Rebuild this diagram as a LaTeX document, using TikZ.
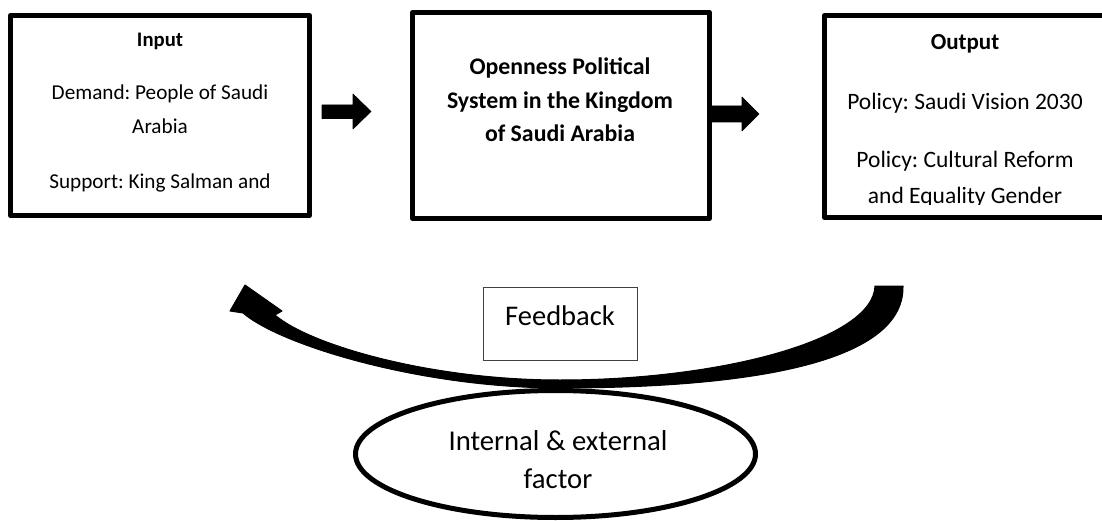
\documentclass[tikz,border=0pt]{standalone}
\usepackage{fontspec}
\setmainfont{Carlito}
\usetikzlibrary{shapes.geometric}
\frenchspacing
\tikzset{
  boxframe/.style={draw=black, line width=5pt, line join=round, inner sep=0pt, fill=none},
  fbframe/.style={draw=black!75, line width=1.3pt, inner sep=0pt},
  ovalframe/.style={ellipse, draw=black, line width=5pt, inner sep=0pt},
  txt/.style={anchor=base, inner sep=0pt, align=center},
  blockarrow/.style={fill=black, draw=black, line width=0.6pt, line join=round},
}
\newcommand{\fsz}[1]{\fontsize{#1}{#1}\selectfont}
\begin{document}
\begin{tikzpicture}[x=1pt,y=-1pt]
\clip (0,0) rectangle (1102,521);
\fill[white] (0,0) rectangle (1102,521);

% ---------- Input box ----------
\begin{scope}
  \clip (13,18) rectangle (307,204);
  \node[txt] (inT) at (160,46.7) {\fsz{20.7}\bfseries Input};
  \node[txt] (inD1) at (160,100) {\fsz{21.2}Demand: People of Saudi};
  \node[txt] (inD2) at (160,133.3) {\fsz{21.2}Arabia};
  \node[txt] (inS) at (160,188.3) {\fsz{21.2}Support: King Salman and};
\end{scope}
\node[boxframe, minimum width=299pt, minimum height=200pt] (in) at (160,115.5) {};

% ---------- Middle box ----------
\node[txt] (m1) at (560,74.5) {\fsz{23.8}\bfseries Openness Political};
\node[txt] (m2) at (560,108.5) {\fsz{23.8}\bfseries System in the Kingdom};
\node[txt] (m3) at (560,142) {\fsz{23.8}\bfseries of Saudi Arabia};
\node[boxframe, minimum width=297pt, minimum height=206pt] (mid) at (561,115.5) {};

% ---------- Output box ----------
\begin{scope}
  \clip (827,18) rectangle (1105,204.3);
  \node[txt] (outT) at (965,50) {\fsz{23}\bfseries Output};
  \node[txt] (outP1) at (965,110) {\fsz{23.5}Policy: Saudi Vision 2030};
  \node[txt] (outP2) at (965,168) {\fsz{23.5}Policy: Cultural Reform};
  \node[txt] (outP3) at (965,203.3) {\fsz{23.5}and Equality Gender};
\end{scope}
\node[boxframe, minimum width=283pt, minimum height=202pt] (out) at (966,116.5) {};

% ---------- block arrows ----------
\coordinate (a1s) at (322,111.5);
\coordinate (a2s) at (712,114);
\filldraw[blockarrow] (a1s) ++(0,-6.5) -- ++(31,0) -- ++(0,-11) -- (371,111.5) -- (353,129) -- ++(0,-10.5) -- (322,118.5) -- cycle;
\filldraw[blockarrow] (a2s) ++(0,-8) -- ++(30,0) -- ++(0,-9) -- (759,114) -- (742,131) -- ++(0,-9) -- (712,122) -- cycle;

% ---------- Feedback ----------
\node[fbframe, minimum width=154pt, minimum height=73pt] (fb) at (560.5,324) {};
\node[txt] (fbt) at (560,325) {\fsz{28.5}Feedback};

\coordinate (fbtail) at (889,286);
\coordinate (fbhead) at (245,285);
\filldraw[fill=black, draw=black, line width=1pt, line join=round]
  (243,313) .. controls (280,345) and (420,388) .. (560,388)
  .. controls (720,388) and (905,370) .. (903,286)
  -- (875,286)
  .. controls (873,340) and (720,380) .. (560,380)
  .. controls (430,380) and (310,345) .. (275,315)
  -- (282,311) -- (fbhead) -- (230,311) -- cycle;

% ---------- ellipse ----------
\node[ovalframe, minimum width=400pt, minimum height=127pt] (fac) at (555.5,454) {};
\node[txt] (fac1) at (558,450) {\fsz{28.7}Internal \& external};
\node[txt] (fac2) at (558,488) {\fsz{28.7}factor};
\end{tikzpicture}
\end{document}
